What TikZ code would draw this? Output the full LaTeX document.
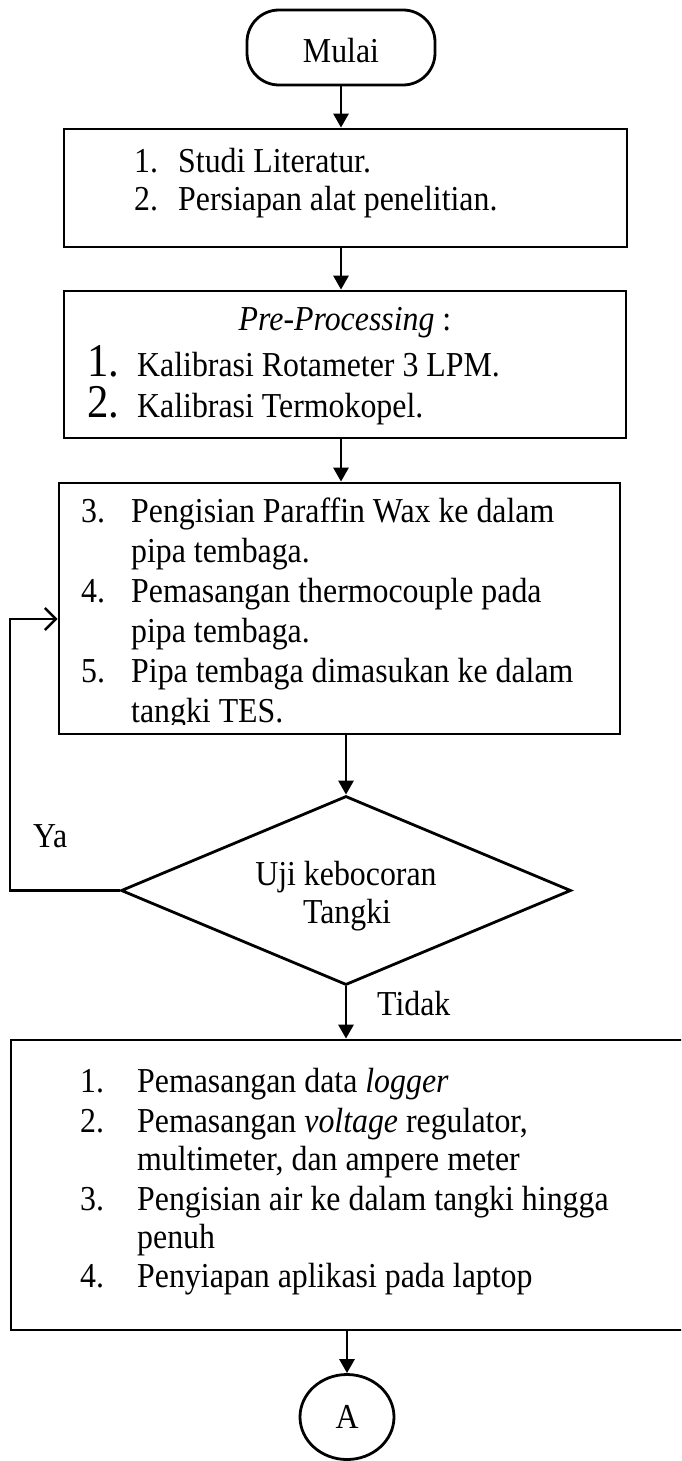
\documentclass[tikz,border=0pt]{standalone}
\usepackage{fontspec}
\setmainfont{Liberation Serif}[FakeStretch=0.91]
\usetikzlibrary{arrows.meta,shapes.geometric}
\newcommand\bodyfont{\fontsize{35}{40}\selectfont}
\newcommand\bignumfont{\fontsize{47}{50}\selectfont}
\tikzset{
  lw/.style={line width=2.8pt},
  box/.style={draw, lw, rectangle, inner sep=0pt},
  txt/.style={anchor=base west, inner sep=0pt, font=\bodyfont},
  ctxt/.style={anchor=base, inner sep=0pt, font=\bodyfont},
  flow/.style={lw, -{Triangle[length=14pt,width=15pt]}},
  back/.style={lw, -{Straight Barb[length=11pt,width=22pt,line width=2.4pt]}},
}
\begin{document}
\begin{tikzpicture}[x=1pt,y=-1pt]
\useasboundingbox (0,0) rectangle (681,1461);
\clip (0,0) rectangle (681,1461);

% shapes
\node[box, rounded corners=32pt, minimum width=188pt, minimum height=75pt] (mulai) at (341,47.5) {};
\node[ctxt] (tmulai) at (341,63) {Mulai};

\node[box, minimum width=563pt, minimum height=118pt] (box1) at (345.5,188) {};
\node[box, minimum width=562pt, minimum height=147pt] (box2) at (345,364.5) {};
\node[box, minimum width=561pt, minimum height=251pt] (box3) at (339.5,608.5) {};
\node[draw, lw, diamond, inner sep=0pt, minimum width=450pt, minimum height=189pt] (dec) at (346,890.5) {};
\node[box, minimum width=673pt, minimum height=290pt] (box4) at (347.5,1185) {};
\node[draw, lw, ellipse, inner sep=0pt, minimum width=94pt, minimum height=85pt, font=\bodyfont] (conA) at (347,1417) {A};

% box 1 text
\node[txt] (b1n1) at (134,172) {1.};
\node[txt] (b1t1) at (178,172) {Studi Literatur.};
\node[txt] (b1n2) at (134,210) {2.};
\node[txt] (b1t2) at (178,210) {Persiapan alat penelitian.};

% box 2 text
\node[ctxt] (b2h) at (345,330) {\textit{Pre-Processing} :};
\node[txt, font=\bignumfont] (b2n1) at (87,376) {1.};
\node[txt] (b2t1) at (137,376) {Kalibrasi Rotameter 3 LPM.};
\node[txt, font=\bignumfont] (b2n2) at (87,417) {2.};
\node[txt] (b2t2) at (137,417) {Kalibrasi Termokopel.};

% box 3 text (clipped at the bottom as in the source)
\begin{scope}
\clip (59,483) rectangle (620,724);
\node[txt] (b3n3) at (81,522) {3.};
\node[txt] (b3t3a) at (131,522) {Pengisian Paraffin Wax ke dalam};
\node[txt] (b3t3b) at (131,562) {pipa tembaga.};
\node[txt] (b3n4) at (81,602) {4.};
\node[txt] (b3t4a) at (131,602) {Pemasangan thermocouple pada};
\node[txt] (b3t4b) at (131,642) {pipa tembaga.};
\node[txt] (b3n5) at (81,682) {5.};
\node[txt] (b3t5a) at (131,682) {Pipa tembaga dimasukan ke dalam};
\node[txt] (b3t5b) at (131,722) {tangki TES.};
\end{scope}

% decision text
\node[ctxt] (dt1) at (346,885) {Uji kebocoran};
\node[ctxt] (dt2) at (347,923) {Tangki};
\node[txt] (ya) at (33,847) {Ya};
\node[txt] (tidak) at (377,1015) {Tidak};

% box 4 text
\node[txt] (b4n1) at (80,1092) {1.};
\node[txt] (b4t1) at (137,1092) {Pemasangan data \textit{logger}};
\node[txt] (b4n2) at (80,1132) {2.};
\node[txt] (b4t2a) at (137,1132) {Pemasangan \textit{voltage} regulator,};
\node[txt] (b4t2b) at (137,1170) {multimeter, dan ampere meter};
\node[txt] (b4n3) at (80,1210) {3.};
\node[txt] (b4t3a) at (137,1210) {Pengisian air ke dalam tangki hingga};
\node[txt] (b4t3b) at (137,1248) {penuh};
\node[txt] (b4n4) at (80,1287) {4.};
\node[txt] (b4t4) at (137,1287) {Penyiapan aplikasi pada laptop};

% connectors
\draw[flow] (mulai.south) -- (mulai.south |- box1.north);
\draw[flow] (box1.south -| mulai.south) -- (box2.north -| mulai.south);
\draw[flow] (box2.south -| mulai.south) -- (box3.north -| mulai.south);
\draw[flow] (box3.south -| dec.north) -- (dec.north);
\draw[flow] (dec.south) -- (dec.south |- box4.north);
\draw[flow] (box4.south -| conA.north) -- (conA.north);
\coordinate (fb) at (10,619);
\draw[back] (dec.west) -| (fb) -- (fb -| box3.west);
\end{tikzpicture}
\end{document}
